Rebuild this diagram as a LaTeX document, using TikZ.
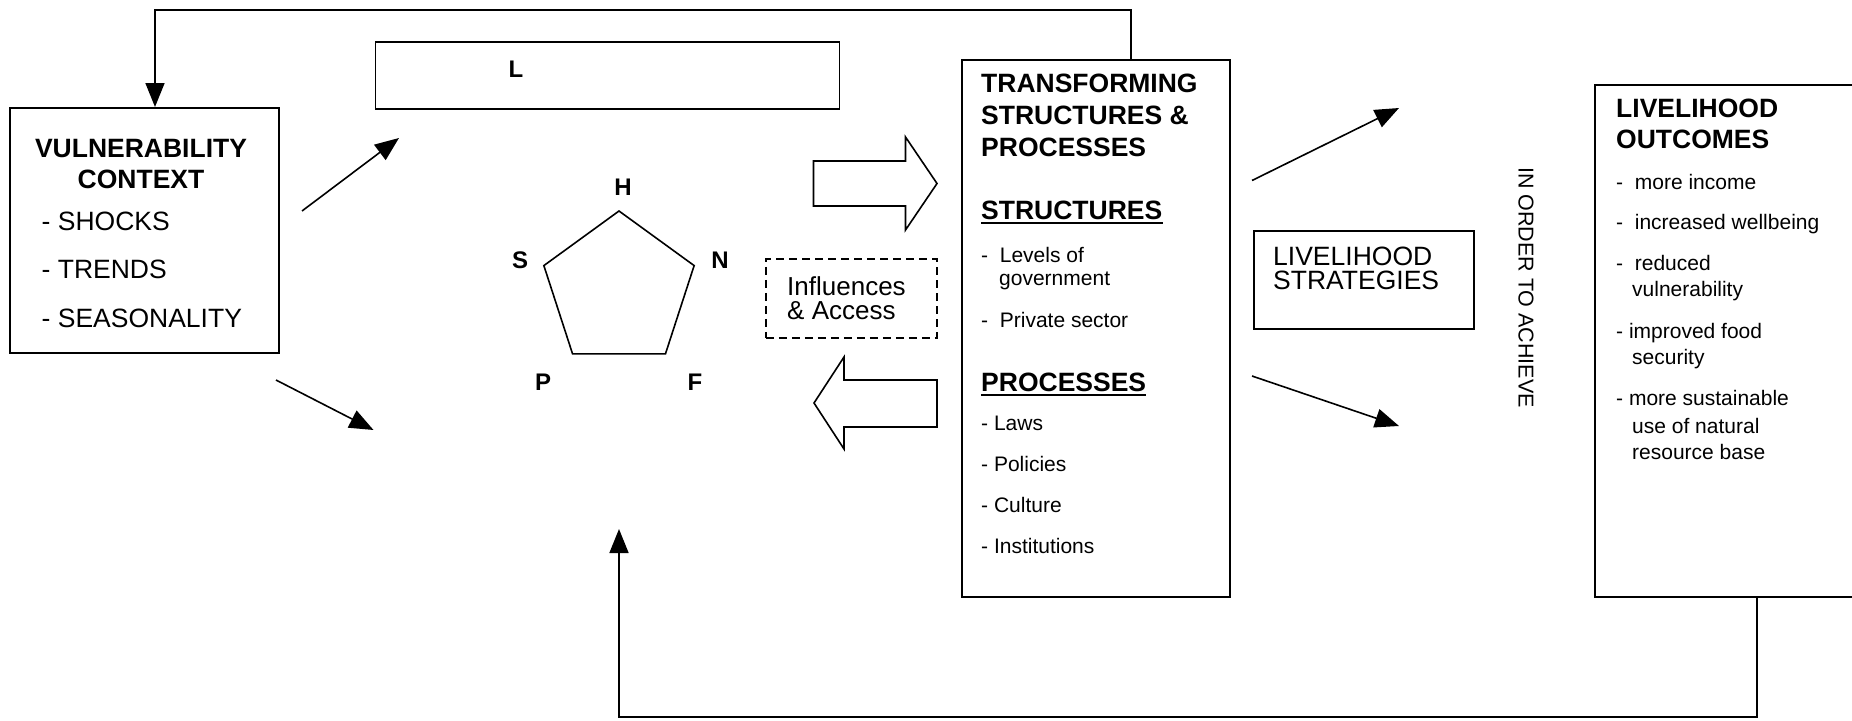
\documentclass[tikz,border=0pt]{standalone}
\usepackage{fontspec}
\setmainfont{Liberation Sans}
\usetikzlibrary{arrows.meta,shapes.geometric,positioning}

\begin{document}
\begin{tikzpicture}[
        x=1pt, y=-1pt,
        box/.style={draw, line width=1.6pt, inner sep=0pt, anchor=north west},
        conn/.style={line width=1.6pt, -{Triangle[length=24pt, width=19pt]}},
        big/.style={font=\fontsize{26.5}{27}\selectfont, inner sep=0pt, anchor=base west},
        bighead/.style={font=\fontsize{26.5}{27}\selectfont\bfseries, inner sep=0pt, anchor=base west},
        small/.style={font=\fontsize{21}{22}\selectfont, inner sep=0pt, anchor=base west},
        letter/.style={font=\fontsize{24}{24}\selectfont\bfseries, inner sep=0pt},
        blockarrow/.style={draw, line width=1.6pt, line join=miter},
    ]

    \useasboundingbox (0,0) rectangle (1852,720);
    \clip (0,0) rectangle (1852,720);

    % Vulnerability context (left)
    \node[box, minimum width=269pt, minimum height=245pt] (vuln) at (9,107) {};
    \node[bighead, anchor=base] (vtitle1) at (141,157.5) {VULNERABILITY};
    \node[bighead, anchor=base] (vtitle2) at (141,188.5) {CONTEXT};
    \foreach \y/\t [count=\k] in {230.5/SHOCKS, 278.5/TRENDS, 327.5/SEASONALITY} {
            \node[big] (vitem\k) at (41.5,\y) {- \t};
        }

    % Livelihood assets
    \node[box, minimum width=464pt, minimum height=67pt] (lbox) at (374.5,41) {};
    \node[letter, anchor=base] (ltext) at (516,77) {L};
    \node[draw, line width=1.6pt, regular polygon, regular polygon sides=5,
        minimum size=158pt, inner sep=0pt] (assets) at (619,290) {};
    \node[letter] (lh) at (623,187) {H};
    \node[letter] (ls) at (520,260) {S};
    \node[letter] (ln) at (720,260) {N};
    \node[letter] (lp) at (543,382) {P};
    \node[letter] (lf) at (695,382) {F};

    % Block arrows and influences
    \draw[blockarrow] (813.5,161) -- (905.5,161) -- (905.5,137) -- (937,183.5)
        -- (905.5,230) -- (905.5,206) -- (813.5,206) -- cycle;
    \draw[blockarrow] (937,380) -- (844,380) -- (844,357) -- (814,403)
        -- (844,449) -- (844,427) -- (937,427) -- cycle;
    \node[box, dashed, dash pattern=on 8pt off 5pt, minimum width=171pt,
        minimum height=79pt] (infl) at (765,258) {};
    \node[big, font=\fontsize{26}{26}\selectfont] (infl1) at (787,295.5) {Influences};
    \node[big, font=\fontsize{26}{26}\selectfont] (infl2) at (787,319.5) {\& Access};

    % Transforming structures and processes
    \node[box, minimum width=268pt, minimum height=537pt] (trans) at (961,59) {};
    \foreach \y/\t [count=\k] in {92.5/TRANSFORMING, 124.5/STRUCTURES \&, 156.5/PROCESSES} {
            \node[bighead] (ttitle\k) at (981,\y) {\t};
        }
    \node[bighead] (shead) at (981,219.5) {STRUCTURES};
    \draw[line width=2pt] ([yshift=-3pt]shead.base west) -- ([yshift=-3pt]shead.base east);
    \node[small] (st1) at (981,262) {-\ \ Levels of};
    \node[small] (st2) at (999,285) {government};
    \node[small] (st3) at (981,327) {-\ \ Private sector};
    \node[bighead] (phead) at (981,391.5) {PROCESSES};
    \draw[line width=2pt] ([yshift=-3pt]phead.base west) -- ([yshift=-3pt]phead.base east);
    \foreach \y/\t [count=\k] in {430.5/Laws, 471.5/Policies, 512.5/Culture, 553.5/Institutions} {
            \node[small] (pr\k) at (981,\y) {- \t};
        }

    % Livelihood strategies
    \node[box, minimum width=220pt, minimum height=98pt] (strat) at (1253,230) {};
    \node[big] (strat1) at (1273,265) {LIVELIHOOD};
    \node[big] (strat2) at (1273,289.5) {STRATEGIES};
    \node[font=\fontsize{21.5}{22}\selectfont, rotate=-90, inner sep=0pt] (achieve)
        at (1526,287.5) {IN ORDER TO ACHIEVE};

    % Livelihood outcomes (right)
    \node[box, minimum width=300pt, minimum height=512pt] (outc) at (1594,84) {};
    \node[bighead] (otitle1) at (1616,117.5) {LIVELIHOOD};
    \node[bighead] (otitle2) at (1616,148.5) {OUTCOMES};
    \foreach \x/\y/\t [count=\k] in {1616/189/-\ \ more income, 1616/229/-\ \ increased wellbeing,
            1616/270/-\ \ reduced, 1632/296/vulnerability, 1616/338/- improved food,
            1632/364/security, 1616/405/- more sustainable, 1632/433/use of natural,
            1632/459/resource base} {
            \node[small] (oitem\k) at (\x,\y) {\t};
        }

    % Thin arrows
    \coordinate (a1s) at (302,211);
    \coordinate (a1e) at (399,138);
    \coordinate (a2s) at (276,380);
    \coordinate (a2e) at (373.5,430);
    \coordinate (a3s) at (1252,180.5);
    \coordinate (a3e) at (1399,108);
    \coordinate (a4s) at (1252,376);
    \coordinate (a4e) at (1399,426);
    \foreach \i in {1,...,4} {
            \draw[conn] (a\i s) -- (a\i e);
        }

    % Feedback loops
    \coordinate (fbtr) at (1131,10);
    \coordinate (fbtl) at (155,10);
    \draw[conn] (trans.north -| fbtr) -- (fbtr) -- (fbtl) -- (vuln.north -| fbtl);
    \coordinate (fbbr) at (1757,717);
    \coordinate (fbend) at (619,529);
    \draw[conn] (outc.south -| fbbr) -- (fbbr) -| (fbend);

\end{tikzpicture}
\end{document}
